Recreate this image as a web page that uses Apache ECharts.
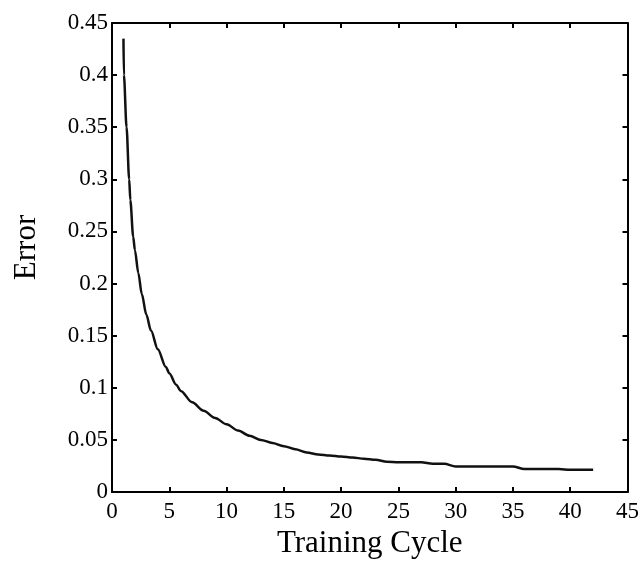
<!DOCTYPE html>
<html>
<head>
<meta charset="utf-8">
<script src="https://cdn.jsdelivr.net/npm/echarts@6/dist/echarts.min.js"></script>
<style>
  html, body { margin: 0; padding: 0; background: #fff; }
  #chart { width: 642px; height: 564px; }
</style>
</head>
<body>
<div id="chart"></div>
<script>
// training cycle vs error
const cycles = [1, 1.04, 1.27, 1.5, 1.6, 1.85, 2, 2.3, 2.6, 3, 3.4, 4, 4.7, 5, 5.6, 6, 7, 8, 9, 10,
  11, 12, 13, 14, 15, 16, 17, 18, 19, 20, 21, 22, 23, 24, 25, 26, 27, 28, 29, 30,
  31, 32, 33, 34, 35, 36, 37, 38, 39, 40, 41, 42]
const errors = [0.435, 0.4, 0.35, 0.3, 0.28, 0.245, 0.232, 0.21, 0.19, 0.17, 0.155, 0.137, 0.12, 0.114, 0.103, 0.097, 0.086, 0.078, 0.071, 0.065,
  0.059, 0.054, 0.05, 0.047, 0.044, 0.041, 0.038, 0.036, 0.035, 0.034, 0.033, 0.032, 0.031, 0.029, 0.0285, 0.0285, 0.0285, 0.027, 0.027, 0.0245,
  0.0245, 0.0245, 0.0245, 0.0245, 0.0245, 0.022, 0.022, 0.022, 0.022, 0.0213, 0.0213, 0.0213]

const FONT = 'Liberation Serif'
const axisLine = { show: true, onZero: false, lineStyle: { color: '#000', width: 2 } }
const axisTick = { show: true, inside: true, length: 5, lineStyle: { color: '#000', width: 2 } }

const chart = echarts.init(document.getElementById('chart'))
chart.setOption({
  animation: false,
  grid: { left: 112, right: 10, top: 23, bottom: 71 },
  xAxis: [
    {
      type: 'value', min: 0, max: 45, interval: 5,
      name: 'Training Cycle', nameLocation: 'middle', nameGap: 36,
      nameTextStyle: { fontFamily: FONT, fontSize: 31, color: '#000' },
      axisLine, axisTick, splitLine: { show: false },
      axisLabel: { fontFamily: FONT, fontSize: 23, color: '#000', margin: 8 },
    },
    {
      type: 'value', min: 0, max: 45, interval: 5, position: 'top',
      axisLine, axisTick, splitLine: { show: false }, axisLabel: { show: false },
    },
  ],
  yAxis: [
    {
      type: 'value', min: 0, max: 0.45, interval: 0.05,
      name: 'Error', nameLocation: 'middle', nameGap: 70,
      nameTextStyle: { fontFamily: FONT, fontSize: 31, color: '#000', padding: [0, 0, 0, 20] },
      axisLine, axisTick, splitLine: { show: false },
      axisLabel: {
        fontFamily: FONT, fontSize: 23, color: '#000', margin: 4,
        formatter: (v) => String(+v.toFixed(2)),
      },
    },
    {
      type: 'value', min: 0, max: 0.45, interval: 0.05, position: 'right',
      axisLine, axisTick, splitLine: { show: false }, axisLabel: { show: false },
    },
  ],
  series: [
    {
      type: 'line',
      data: cycles.map((c, i) => [c, errors[i]]),
      showSymbol: false,
      smooth: 0.3,
      smoothMonotone: 'x',
      lineStyle: { color: '#111', width: 2.5 },
    },
  ],
})
</script>
</body>
</html>
